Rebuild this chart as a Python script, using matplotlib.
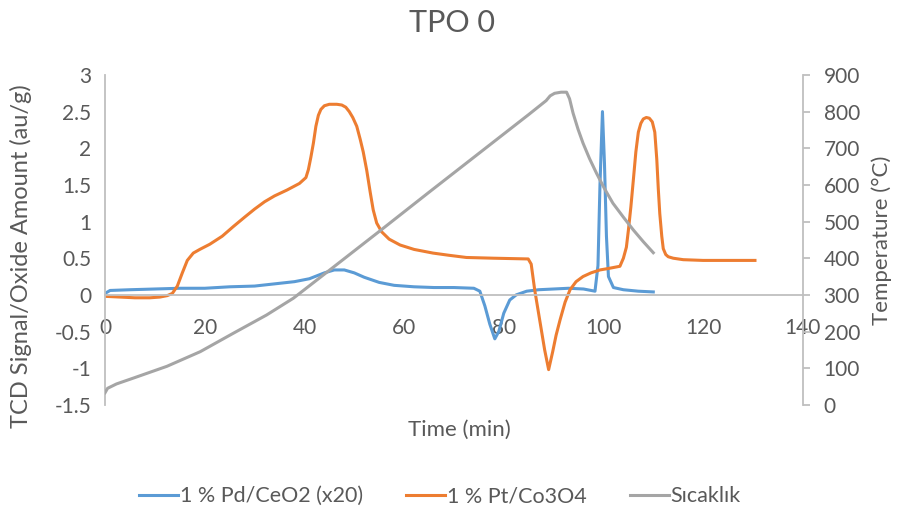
import numpy as np
import matplotlib
matplotlib.use("Agg")
import matplotlib.pyplot as plt

# 1 % Pd/CeO2 (x20)
t_pd = [0, 1, 5, 10, 15, 20, 25, 30, 34, 38, 41, 44, 46, 48, 50, 52, 55, 58, 62, 66, 70, 74,
        75.2, 76.2, 77.2, 78.2, 79.0, 80.0, 81.2, 82.5, 84.6, 87, 90, 93, 96, 98.3, 98.9,
        99.3, 99.8, 100.2, 100.6, 101, 102, 104, 107, 110]
pd = [0.02, 0.06, 0.07, 0.08, 0.09, 0.09, 0.11, 0.12, 0.15, 0.18, 0.22, 0.3, 0.34, 0.34, 0.3,
      0.24, 0.17, 0.13, 0.11, 0.1, 0.1, 0.09,
      0.05, -0.15, -0.4, -0.6, -0.5, -0.25, -0.07, 0.0, 0.05, 0.07, 0.08, 0.09, 0.08, 0.05, 0.4,
      1.5, 2.5, 1.8, 0.8, 0.25, 0.1, 0.07, 0.05, 0.04]

# 1 % Pt/Co3O4
t_pt = [0, 3, 6, 9, 11, 12.5, 13.5, 14.5, 15.5, 16.5, 17.7, 19, 21, 23.5, 25.7, 28, 30, 32, 34,
        36.5, 39, 40.3, 40.8, 41.3, 41.8, 42.3, 42.8, 43.3, 44, 45, 46.5, 47.5, 48.3, 49, 49.7,
        50.5, 51.2, 51.8, 52.5, 53.2, 53.8, 54.5, 55.5, 57, 59.2, 62, 65.8, 69, 72.5, 78, 84.9,
        85.5, 86.2, 87.2, 88.2, 89, 89.8, 90.5, 91.3, 92.3, 93.3, 94.5, 95.9, 97.5, 99.3, 101,
        103.3, 104, 104.6, 105, 105.5, 106, 106.5, 107, 107.5, 108, 108.6, 109.2, 109.8, 110.3,
        110.7, 111, 111.3, 111.7, 112, 112.5, 113, 114, 116, 120, 125, 130.4]
pt = [-0.02, -0.03, -0.04, -0.04, -0.03, -0.01, 0.02, 0.12, 0.3, 0.47, 0.57, 0.62, 0.69, 0.8,
      0.93, 1.06, 1.17, 1.27, 1.35, 1.43, 1.52, 1.6, 1.71, 1.88, 2.07, 2.3, 2.45, 2.53, 2.58,
      2.6, 2.6, 2.59, 2.56, 2.5, 2.42, 2.3, 2.12, 1.95, 1.7, 1.4, 1.16, 0.98, 0.86, 0.76, 0.68,
      0.62, 0.57, 0.54, 0.51, 0.5, 0.49,
      0.42, 0.07, -0.34, -0.75, -1.02, -0.78, -0.55, -0.34, -0.1, 0.07, 0.18, 0.25, 0.3, 0.34,
      0.36, 0.39, 0.5, 0.65, 0.88, 1.2, 1.57, 1.95, 2.22, 2.34, 2.4, 2.42, 2.41, 2.36, 2.22,
      1.85, 1.45, 1.11, 0.8, 0.63, 0.55, 0.52, 0.5, 0.48, 0.47, 0.47, 0.47]

# Sıcaklık (right axis)
t_T = [0, 0.5, 2.3, 5.7, 12.4, 19.1, 25.7, 32.4, 37.8, 45, 55, 65, 75, 85, 88.5, 89.3, 90.2,
       91.5, 92.6, 93.2, 93.9, 94.9, 95.9, 97.2, 98.6, 100.2, 101.9, 104, 106, 108, 110]
T = [33, 45, 57, 73, 105, 145, 195, 245, 291, 367, 473, 580, 686, 792, 830, 843, 850,
     853, 853, 835, 796, 752, 714, 672, 632, 590, 550, 512, 477, 445, 415]

txt = '#595959'
ax_col = '#bfbfbf'
plt.rcParams['font.family'] = ['Lato', 'DejaVu Sans']

fig = plt.figure(figsize=(8.98, 5.17), dpi=100)
ax = fig.add_axes([0.117, 0.217, 0.777, 0.638])
ax2 = ax.twinx()

ax.plot(t_pd, pd, color='#5b9bd5', lw=2.2, label='1 % Pd/CeO2 (x20)')
ax.plot(t_pt, pt, color='#ed7d31', lw=2.2, label='1 % Pt/Co3O4')
ax2.plot(t_T, T, color='#a5a5a5', lw=2.2, label='Sıcaklık')

ax.set_xlim(0, 140)
ax.set_ylim(-1.5, 3)
ax2.set_ylim(0, 900)
ax.set_xticks(np.arange(0, 141, 20))
ax.set_yticks(np.arange(-1.5, 3.01, 0.5))
ax.set_yticklabels(['-1.5', '-1', '-0.5', '0', '0.5', '1', '1.5', '2', '2.5', '3'])
ax2.set_yticks(np.arange(0, 901, 100))

for a in (ax, ax2):
    for s in a.spines.values():
        s.set_color(ax_col)
        s.set_linewidth(1.3)
    a.spines['top'].set_visible(False)
ax.spines['right'].set_visible(False)
ax2.spines['left'].set_visible(False)
ax2.spines['bottom'].set_visible(False)
ax.spines['bottom'].set_position(('data', 0))

ax.tick_params(axis='x', length=0, pad=17, labelsize=15, colors=txt)
ax.tick_params(axis='y', length=0, pad=10, labelsize=15, colors=txt)
ax2.tick_params(axis='y', length=5, width=1.3, color=ax_col, pad=10, labelsize=15, labelcolor=txt)

ax.set_ylabel('TCD Signal/Oxide Amount (au/g)', fontsize=17, color=txt)
ax.yaxis.set_label_coords(-0.105, 0.45)
ax2.set_ylabel('Temperature (°C)', fontsize=16, color=txt, labelpad=8)
fig.text(0.512, 0.168, 'Time (min)', ha='center', va='center', fontsize=16, color=txt)
fig.text(0.503, 0.955, 'TPO 0', ha='center', va='center', fontsize=22, color=txt)

h1, l1 = ax.get_legend_handles_labels()
h2, l2 = ax2.get_legend_handles_labels()
fig.legend(h1 + h2, l1 + l2, loc='center', bbox_to_anchor=(0.49, 0.04), ncol=3, frameon=False,
           fontsize=15.5, labelcolor=txt, handlelength=1.8, handletextpad=0.1, columnspacing=2.0)

fig.savefig('out.png', dpi=100)
